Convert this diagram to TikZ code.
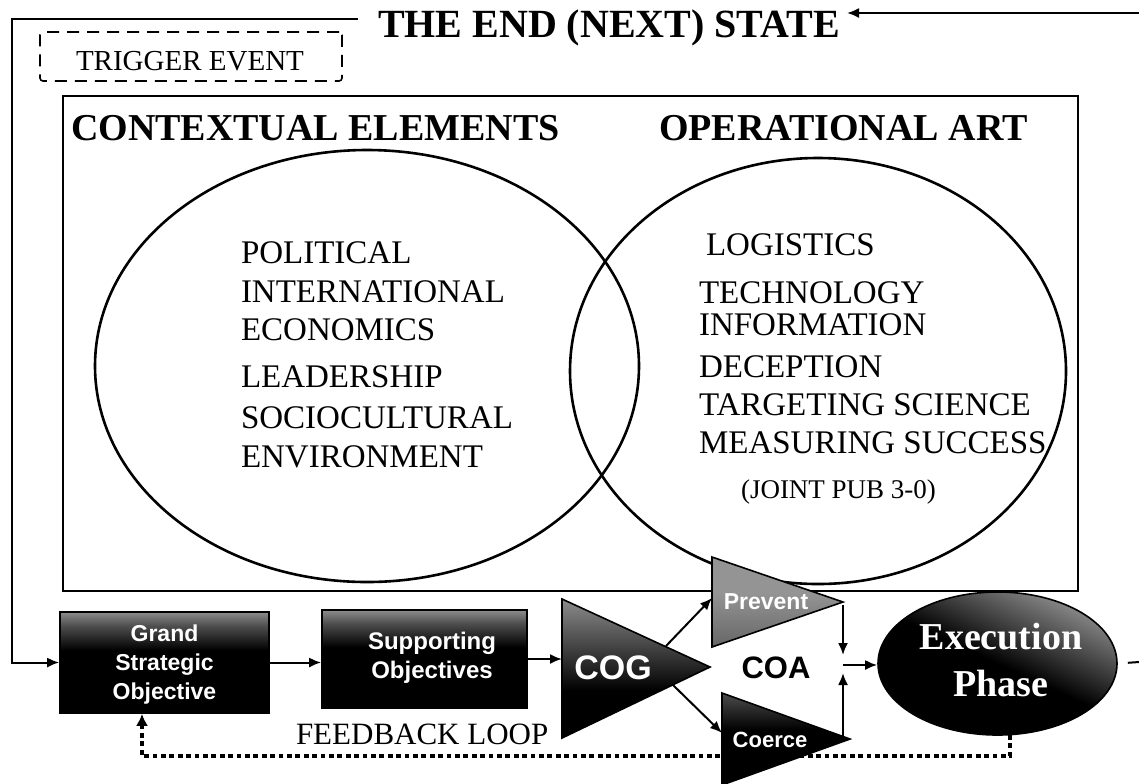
\documentclass[tikz,border=0pt]{standalone}
\usepackage{fontspec}
\setmainfont{Liberation Serif}
\newfontfamily\sansf{Liberation Sans}
\usetikzlibrary{arrows.meta,shapes.geometric}
\definecolor{sgA}{gray}{0.55}
\definecolor{sgB}{gray}{0.30}
\definecolor{sgC}{gray}{0.58}
\definecolor{sgD}{gray}{0.40}
\pgfdeclareverticalshading{boxsh}{100bp}{color(0bp)=(black); color(25bp)=(black); color(56bp)=(black); color(68bp)=(sgB); color(75bp)=(sgA); color(100bp)=(sgA)}
\pgfdeclareverticalshading{cogsh}{100bp}{color(0bp)=(black); color(25bp)=(black); color(42bp)=(black); color(75bp)=(sgA); color(100bp)=(sgA)}
\pgfdeclareverticalshading{prevsh}{100bp}{color(0bp)=(sgD); color(25bp)=(sgD); color(55bp)=(sgC); color(75bp)=(sgC); color(100bp)=(sgC)}
\pgfdeclareverticalshading{coersh}{100bp}{color(0bp)=(black); color(25bp)=(black); color(55bp)=(black); color(75bp)=(sgB); color(100bp)=(sgB)}
\pgfdeclareverticalshading{execsh}{100bp}{color(0bp)=(black); color(25bp)=(black); color(50bp)=(black); color(75bp)=(sgA); color(100bp)=(sgA)}
\begin{document}
\begin{tikzpicture}[x=0.5pt,y=-0.5pt,line width=1pt,
  arr/.style={-{Latex[length=6pt,width=5pt]},line width=1pt},
  itm/.style={anchor=base west,inner sep=0pt,font=\fontsize{16.5}{20}\selectfont},
  hdr/.style={anchor=base west,inner sep=0pt,font=\fontsize{19}{23}\selectfont\bfseries},
  shtext/.style={text=white,align=center,inner sep=0pt},
  darkbox/.style={draw=black,line width=0.8pt,shade,shading=boxsh,inner sep=0pt},
  fbline/.style={line width=1.8pt,dash pattern=on 2.4pt off 1.8pt,-{Latex[length=6pt,width=6pt]}}]
\useasboundingbox (0,0) rectangle (1139,783);
\fill[white] (0,0) rectangle (1139,783);

% title and top loop
\node[anchor=base west,inner sep=0pt,font=\fontsize{20}{24}\selectfont\bfseries] (endstate) at (377,37) {THE END (NEXT) STATE};
\coordinate (topL) at (358,19);
\coordinate (corner) at (12,19);
\coordinate (topR) at (1139,13);
\coordinate (endIn) at (847,13);

% trigger event
\node[draw,dash pattern=on 6pt off 4pt,line width=0.8pt,rounded corners=1.5pt,minimum width=151pt,minimum height=24.5pt,inner sep=0pt] (trigbox) at (191,56.5) {};
\node[anchor=base west,inner sep=0pt,font=\fontsize{14.5}{17}\selectfont] (trigger) at (75,70) {TRIGGER EVENT};

% main frame
\node[draw,line width=1.1pt,minimum width=507.5pt,minimum height=247.5pt,inner sep=0pt] (mainbox) at (570.5,343.5) {};
\node[hdr] (ctxhdr) at (70,140) {CONTEXTUAL ELEMENTS};
\node[hdr] (opshdr) at (658,140) {OPERATIONAL ART};

\node[draw,ellipse,line width=1.3pt,minimum width=272pt,minimum height=216pt,inner sep=0pt] (ctx) at (367,366) {};
\node[draw,ellipse,line width=1.3pt,minimum width=248pt,minimum height=213pt,inner sep=0pt] (ops) at (818,371) {};

\node[itm] (l1) at (240,263) {POLITICAL};
\node[itm] (l2) at (240,302) {INTERNATIONAL};
\node[itm] (l3) at (240,340) {ECONOMICS};
\node[itm] (l4) at (240,387) {LEADERSHIP};
\node[itm] (l5) at (240,428) {SOCIOCULTURAL};
\node[itm] (l6) at (240,467) {ENVIRONMENT};

\node[itm] (r1) at (705,255) {LOGISTICS};
\node[itm] (r2) at (698,303) {TECHNOLOGY};
\node[itm] (r3) at (698,335) {INFORMATION};
\node[itm] (r4) at (698,377) {DECEPTION};
\node[itm] (r5) at (698,415) {TARGETING SCIENCE};
\node[itm] (r6) at (698,453) {MEASURING SUCCESS};
\node[anchor=base west,inner sep=0pt,font=\fontsize{13.5}{16}\selectfont] (r7) at (740,498) {(JOINT PUB 3-0)};

% bottom process
\node[darkbox,minimum width=104.5pt,minimum height=50.5pt] (grand) at (164.5,662.5) {};
\node[shtext,font=\sansf\bfseries\fontsize{11.5}{14.5}\selectfont] (grandlbl) at (164.5,665) {Grand\\Strategic\\Objective};
\node[darkbox,minimum width=102.5pt,minimum height=49pt] (supp) at (424.5,659) {};
\node[shtext,font=\sansf\bfseries\fontsize{12}{14.5}\selectfont] (supplbl) at (432,658) {Supporting\\Objectives};

\coordinate (cogT) at (562,599);
\coordinate (cogB) at (562,738);
\coordinate (cogTip) at (710,667);
\coordinate (cogUp) at (666,646);
\coordinate (cogLo) at (673,685);
\path[draw=black,line width=0.8pt,shade,shading=cogsh] (cogT) -- (cogTip) -- (cogB) -- cycle;
\node[shtext,font=\sansf\bfseries\fontsize{17}{20}\selectfont] (cog) at (613,668) {COG};

\coordinate (prevT) at (712,557);
\coordinate (prevB) at (712,647);
\coordinate (prevTip) at (843,602);
\coordinate (prevIn) at (712,598);
\path[draw=black,line width=0.8pt,shade,shading=prevsh] (prevT) -- (prevTip) -- (prevB) -- cycle;
\node[shtext,font=\sansf\bfseries\fontsize{11.5}{14}\selectfont] (prevent) at (766,602) {Prevent};

\coordinate (coerT) at (722,693);
\coordinate (coerB) at (722,785);
\coordinate (coerTip) at (850,739);
\coordinate (coerIn) at (722,733);
\path[draw=black,line width=0.8pt,shade,shading=coersh] (coerT) -- (coerTip) -- (coerB) -- cycle;
\node[shtext,font=\sansf\bfseries\fontsize{11}{14}\selectfont] (coerce) at (770,740) {Coerce};

\node[font=\sansf\bfseries\fontsize{15.5}{18}\selectfont,inner sep=0pt] (coa) at (776,668) {COA};

\coordinate (prevOut) at (843,605);
\coordinate (coerOut) at (843,737);
\coordinate (joinTop) at (843,655);
\coordinate (joinBot) at (843,673);
\coordinate (join) at (843,665);

\node[draw=black,ellipse,line width=0.8pt,shade,shading=execsh,shading angle=-25,minimum width=119.5pt,minimum height=71.5pt,inner sep=0pt] (exec) at (997.5,663.5) {};
\node[shtext,font=\bfseries\fontsize{19}{23.5}\selectfont] (execlbl) at (1001,660) {Execution\\Phase};

\coordinate (exitR) at (1139,662);
\coordinate (fbA) at (1010,735);
\coordinate (fbC) at (142,756);

\node[anchor=base west,inner sep=0pt,font=\fontsize{15.5}{18}\selectfont] (fbl) at (295,744) {FEEDBACK LOOP};

% connectors
\draw[arr] (topR) -- (endIn);
\draw[arr] (topL) -- (corner) |- (grand.west);
\draw[arr] (grand.east) -- (grand.east -| supp.west);
\draw[arr] (supp.east) -- (supp.east -| cogT);
\draw[arr] (cogUp) -- (prevIn);
\draw[arr] (cogLo) -- (coerIn);
\draw[arr] (prevOut) -- (joinTop);
\draw[arr] (coerOut) -- (joinBot);
\draw[arr] (join) -- (join -| exec.west);
\draw[line width=1pt,shorten <=5pt] (exec.east) -- (exitR);
\draw[fbline] (fbA) |- (fbC) -- (fbC |- grand.south);
\end{tikzpicture}
\end{document}
